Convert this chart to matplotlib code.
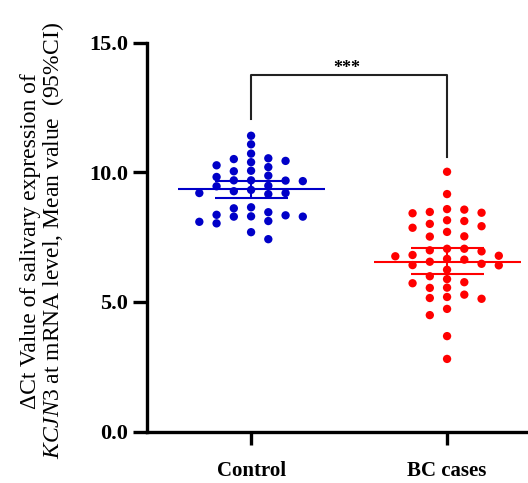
import numpy as np
import matplotlib.pyplot as plt

plt.rcParams['font.family'] = 'Liberation Serif'
plt.rcParams['mathtext.fontset'] = 'custom'
plt.rcParams['mathtext.it'] = 'Liberation Serif:italic'
plt.rcParams['mathtext.rm'] = 'Liberation Serif'

# --- data ---
groups = ['Control', 'BC cases']
control = [11.41, 11.08, 10.72, 10.51, 10.39, 10.20, 10.27, 10.44, 10.54, 10.04,
           9.82, 10.06, 9.87, 9.68, 9.66, 9.69, 9.69, 9.48, 9.46, 9.32,
           9.20, 9.16, 9.20, 9.27, 8.61, 8.65, 8.46, 8.34, 8.30, 8.12,
           8.03, 8.09, 8.29, 8.29, 8.36, 7.69, 7.42]
bc_cases = [10.02, 9.16, 8.58, 8.47, 8.42, 8.44, 8.56, 8.12, 8.15, 7.92,
            7.86, 8.01, 7.70, 7.52, 7.53, 7.05, 6.99, 6.95, 7.05, 6.81,
            6.76, 6.78, 6.66, 6.55, 6.63, 6.47, 6.42, 6.41, 6.24, 5.99,
            5.88, 5.72, 5.76, 5.54, 5.55, 5.19, 5.12, 5.15, 5.28, 4.49,
            4.73, 3.68, 2.80]
means = [9.34, 6.55]
ci_low = [9.00, 6.06]
ci_high = [9.68, 7.07]
colors = ['#0000C8', '#FF0000']
sig_label = '***'


def swarm_offsets(values, step, min_dy):
    # greedy placement on a half-step grid, Prism-like look
    vals = np.asarray(values, dtype=float)
    order = np.argsort(-vals)
    placed = []
    offs = np.zeros(len(vals))
    for i in order:
        v = vals[i]
        bal = sum(o for o, _ in placed)
        pref = -1 if bal > 0 else 1
        k = 0
        while True:
            cands = [0] if k == 0 else [pref * k, -pref * k]
            found = None
            for c in cands:
                ok = True
                for o, pv in placed:
                    if abs(c - o) < 2 and abs(v - pv) < min_dy:
                        ok = False
                        break
                if ok:
                    found = c
                    break
            if found is not None:
                break
            k += 1
        placed.append((found, v))
        offs[i] = found * step
    return offs


fig = plt.figure(figsize=(5.28, 4.83), dpi=100)
ax = fig.add_axes([147 / 528, 51.5 / 483, 381 / 528, 388.8 / 483])
ax.set_xlim(-0.531, 1.413)
ax.set_ylim(0, 15)

for gi, vals in enumerate([control, bc_cases]):
    offs = swarm_offsets(vals, step=0.044, min_dy=0.32)
    ax.scatter(gi + offs, vals, s=36, color=colors[gi], edgecolors='none', zorder=3)
    ax.hlines(means[gi], gi - 0.375, gi + 0.375, color=colors[gi], lw=1.5, zorder=4)
    ax.hlines([ci_low[gi], ci_high[gi]], gi - 0.186, gi + 0.186, color=colors[gi], lw=1.5, zorder=4)
    ax.vlines(gi, ci_low[gi], ci_high[gi], color=colors[gi], lw=1.5, zorder=4)

# significance bracket
ax.plot([0, 0, 1, 1], [12.04, 13.75, 13.75, 10.58], color='#222222', lw=1.5,
        clip_on=False, zorder=5)
ax.text(0.49, 14.0, sig_label, ha='center', va='center', fontsize=13, fontweight='bold')

ax.set_xticks([0, 1])
ax.set_xticklabels(groups, fontsize=15, fontweight='bold')
ax.set_yticks([0, 5, 10, 15])
ax.set_yticklabels(['0.0', '5.0', '10.0', '15.0'], fontsize=16, fontweight='bold')
ax.tick_params(axis='y', length=10, width=2.4, pad=3.5)
ax.tick_params(axis='x', length=9, width=2.4, pad=12)

for side in ['top', 'right']:
    ax.spines[side].set_visible(False)
for side in ['left', 'bottom']:
    ax.spines[side].set_linewidth(2.4)

ax.set_ylabel('\u0394Ct Value of salivary expression of\n'
              r'$\mathit{KCJN3}$ at mRNA level, Mean value  (95%CI)',
              fontsize=17, linespacing=0.95)
ax.yaxis.set_label_coords(-0.213, 0.49)

fig.savefig('out.png', dpi=100)
